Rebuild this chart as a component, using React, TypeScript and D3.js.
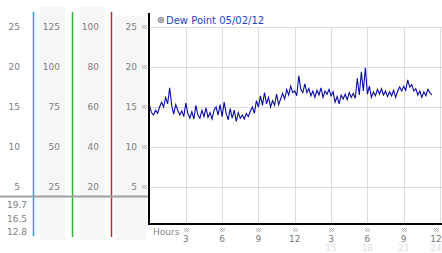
import React from "react";
import * as d3 from "d3";

const dewPoint: number[] = [
  15.2, 14.3, 14.0, 14.6, 14.2, 15.0,
  15.6, 15.0, 16.2, 15.4, 17.4, 15.2,
  14.1, 15.3, 14.6, 14.0, 14.5, 13.8,
  15.5, 14.2, 13.6, 14.4, 13.5, 15.2,
  14.0, 13.6, 14.6, 13.8, 14.9, 13.7,
  14.3, 13.5, 14.6, 15.0, 14.0, 15.3,
  13.8, 15.6, 14.2, 13.4, 14.8, 13.6,
  14.6, 13.2, 14.3, 13.6, 14.0, 13.5,
  14.2, 13.8, 14.5, 15.0, 14.2, 15.8,
  15.0, 16.4, 15.2, 16.8, 15.4, 16.2,
  15.0, 15.8, 15.2, 16.6, 15.3, 16.0,
  16.7, 16.0, 17.2, 16.5, 17.6, 16.8,
  17.0, 16.4, 18.9, 17.2, 16.8, 17.9,
  16.8, 17.3, 16.4, 17.0, 16.2, 17.1,
  16.5, 17.4, 16.2, 17.0, 16.6, 17.2,
  16.4, 16.9, 15.6, 16.3, 15.4, 16.5,
  16.0, 16.6, 15.9, 16.8, 16.2, 16.7,
  16.1, 18.6, 16.5, 19.4, 17.0, 19.9,
  16.6, 17.6, 16.2, 16.9, 16.4, 17.2,
  16.6, 17.3, 16.5, 17.0, 16.3, 16.9,
  16.4, 17.1, 16.2, 17.0, 17.5, 17.0,
  17.6, 17.1, 18.4, 17.5, 17.8, 17.0,
  17.3, 16.5, 17.0, 16.2, 16.9, 16.4,
  17.2, 16.8, 16.5,
];

const yTicks = [25, 20, 15, 10, 5];
const col2Labels = [125, 100, 75, 50, 25];
const col3Labels = [100, 80, 60, 40, 20];
const statLabels = ["19.7", "16.5", "12.8"];
const xTickHours = [3, 6, 9, 12, 15, 18, 21, 24];
const xTickLabels = ["3", "6", "9", "12", "3", "6", "9", "12"];
const xSubLabels = ["", "", "", "", "15", "18", "21", "24"];
const legendText = "Dew Point 05/02/12";

const W = 442;
const H = 253;
const FONT = "'DejaVu Sans', Verdana, sans-serif";

const DOTS = [
  [0, 0], [2, 0], [4, 0],
  [1, 1], [3, 1],
  [0, 2], [2, 2], [4, 2],
  [1, 3], [3, 3],
];

function Marker({ cx, cy }: { cx: number; cy: number }) {
  const x0 = Math.round(cx) - 2;
  const y0 = Math.round(cy) - 2;
  return (
    <g fill="#b4b4b4">
      {DOTS.map(([dx, dy], i) => (
        <rect key={i} x={x0 + dx} y={y0 + dy} width={1} height={1} />
      ))}
    </g>
  );
}

export default function App() {
  const x = d3.scaleLinear().domain([0, 24]).range([149.5, 440]);
  const y = d3.scaleLinear().domain([0, 25]).range([227, 27]);
  const line = d3
    .line<number>()
    .x((_, i) => x(i / 6))
    .y((d) => y(d));

  const plotLeft = 149;
  const plotBottom = 224;

  return (
    <svg
      width={W}
      height={H}
      style={{ position: "fixed", left: 0, top: 0, background: "#fff" }}
      fontFamily={FONT}
    >
      {/* left panel gray columns */}
      <rect x={40} y={7} width={25} height={233} fill="#f6f6f6" />
      <rect x={80} y={7} width={25} height={233} fill="#f6f6f6" />
      <rect x={115} y={16} width={31} height={224} fill="#f6f6f6" />

      {/* colored vertical lines */}
      <line x1={33.5} x2={33.5} y1={12} y2={236} stroke="#2a9fd0" strokeWidth={1.5} />
      <line x1={72.5} x2={72.5} y1={12} y2={237} stroke="#35b035" strokeWidth={1.5} />
      <line x1={111.5} x2={111.5} y1={12} y2={237} stroke="#b03030" strokeWidth={1.5} />

      {/* left labels */}
      {yTicks.map((t, i) => (
        <g key={"l" + i} fontSize={9} fill="#808080" dominantBaseline="central">
          <text x={20} y={y(t)} textAnchor="end">{t}</text>
          <text x={60} y={y(t)} textAnchor="end">{col2Labels[i]}</text>
          <text x={99} y={y(t)} textAnchor="end">{col3Labels[i]}</text>
          <text x={137} y={y(t)} textAnchor="end">{t}</text>
          <Marker cx={144} cy={y(t)} />
        </g>
      ))}

      {/* divider */}
      <line x1={0} x2={149} y1={196.5} y2={196.5} stroke="#a0a0a0" strokeWidth={2} />

      {statLabels.map((s, i) => (
        <text key={"s" + i} x={7} y={205 + i * 13.5} fontSize={9} fill="#808080" dominantBaseline="central">
          {s}
        </text>
      ))}

      {/* grid */}
      {yTicks.map((t, i) => (
        <line key={"gh" + i} x1={plotLeft} x2={W} y1={Math.round(y(t)) + 0.5} y2={Math.round(y(t)) + 0.5} stroke="#dcdcdc" />
      ))}
      {xTickHours.map((h, i) => (
        <line key={"gv" + i} x1={Math.round(x(h)) + 0.5} x2={Math.round(x(h)) + 0.5} y1={27} y2={plotBottom} stroke="#dcdcdc" />
      ))}

      {/* data line */}
      <path d={line(dewPoint) || ""} fill="none" stroke="#0a0aaa" strokeWidth={1.1} />

      {/* axes */}
      <line x1={plotLeft} x2={plotLeft} y1={13} y2={plotBottom + 1} stroke="#000" strokeWidth={2} />
      <line x1={plotLeft} x2={W} y1={plotBottom} y2={plotBottom} stroke="#000" strokeWidth={2} />

      {/* legend */}
      <circle cx={161} cy={20} r={3} fill="#b0b0b0" stroke="#888" strokeWidth={0.6} />
      <text x={166} y={20.5} fontSize={10} fill="#2244cc" dominantBaseline="central">
        {legendText}
      </text>

      {/* x axis labels */}
      <text x={153} y={232} fontSize={9} fill="#888" dominantBaseline="central">Hours</text>
      {xTickHours.map((h, i) => {
        const cx = Math.min(x(h), 436);
        return (
          <g key={"xt" + i} textAnchor="middle" dominantBaseline="central">
            <Marker cx={cx} cy={230} />
            <text x={cx} y={238.5} fontSize={9} fill="#777">{xTickLabels[i]}</text>
            {xSubLabels[i] && (
              <text x={cx} y={248} fontSize={9} fill="#dddddd">{xSubLabels[i]}</text>
            )}
          </g>
        );
      })}
    </svg>
  );
}
